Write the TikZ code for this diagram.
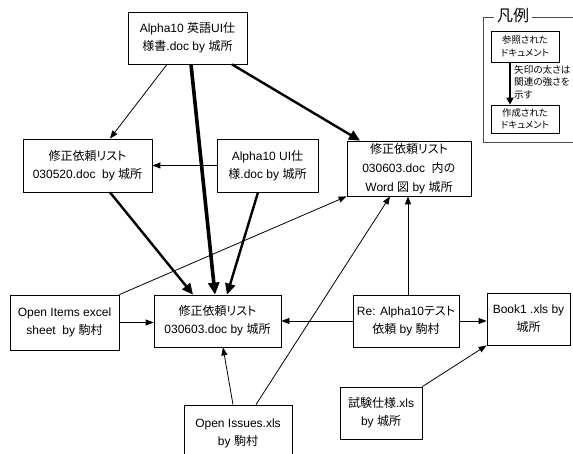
\documentclass[tikz,border=0pt]{standalone}
\usepackage{fontspec}
\setmainfont{Liberation Sans}
\newfontfamily\jp{Noto Sans CJK JP}
\newfontfamily\jpk[RawFeature=+palt]{Noto Sans CJK JP}
\usetikzlibrary{arrows.meta}
\begin{document}
\begin{tikzpicture}[x=1pt,y=-1pt,
  box/.style={draw=black,line width=0.8pt,align=center,inner sep=0pt,
    font=\fontsize{12}{18}\selectfont},
  lbox/.style={draw=black,line width=0.7pt,align=center,inner sep=0pt,
    minimum width=68pt,font=\jpk\fontsize{9.4}{12.5}\selectfont},
  lite/.style={line width=0.8pt,-{Triangle[length=8pt,width=6pt]}},
  heavy/.style={line width=2.4pt,-{Triangle[length=11pt,width=10pt]}},
  vheavy/.style={line width=3.6pt,-{Triangle[length=12pt,width=11pt]}},
]
\useasboundingbox (0,0) rectangle (573,454);

\node[box,minimum width=119pt,minimum height=52pt] (top) at (187.5,38)
  {Alpha10 {\jp 英語}UI{\jp 仕}\\{\jp 様書}.doc by {\jp 城所}};
\node[box,minimum width=129pt,minimum height=53pt] (r0520) at (87.5,165.5)
  {{\jp 修正依頼}{\jpk リスト}\\030520.doc~ by {\jp 城所}};
\node[box,minimum width=101pt,minimum height=53pt] (ui) at (267.5,165.5)
  {Alpha10 UI{\jp 仕}\\{\jp 様}.doc by {\jp 城所}};
\node[box,minimum width=124pt,minimum height=55pt,
  font=\fontsize{12}{19}\selectfont] (word) at (409,168.5)
  {{\jp 修正依頼}{\jpk リスト}\\030603.doc~ {\jp 内の}\\Word {\jp 図} by {\jp 城所}};
\node[box,minimum width=109pt,minimum height=55pt] (oitems) at (64.5,322.5)
  {Open Items excel\\sheet~ by {\jp 駒村}};
\node[box,minimum width=127pt,minimum height=52pt] (r0603) at (217.5,321)
  {{\jp 修正依頼}{\jpk リスト}\\030603.doc by {\jp 城所}};
\node[box,minimum width=106pt,minimum height=52pt] (re) at (406,321)
  {Re: Alpha10{\jpk テスト}\\{\jp 依頼} by {\jp 駒村}};
\node[box,minimum width=83pt,minimum height=52pt] (book) at (528.5,319)
  {Book1 .xls by\\{\jp 城所}};
\node[box,minimum width=82pt,minimum height=52pt] (shiken) at (381,413)
  {{\jp 試験仕様}.xls\\by {\jp 城所}};
\node[box,minimum width=108pt,minimum height=57pt] (oissues) at (238,433.5)
  {Open Issues.xls\\by {\jp 駒村}};

\draw[lite] ([xshift=-20.5pt]top.south) -- ([xshift=22.5pt]r0520.north);
\draw[vheavy] ([xshift=3.5pt]top.south) -- ([xshift=-2.5pt]r0603.north);
\draw[heavy] ([xshift=44.5pt]top.south) -- ([xshift=-49pt]word.north);
\draw[heavy] ([xshift=22.5pt]r0520.south) -- ([xshift=-24.5pt]r0603.north);
\draw[lite] (ui.west) -- (r0520.east);
\draw[heavy] ([xshift=-9.5pt]ui.south) -- ([xshift=9.5pt]r0603.north);
\draw[lite] (oitems.north east) -- (word.south west);
\draw[lite] (oitems.east) -- (oitems.east -| r0603.west);
\draw[lite] ([xshift=-5pt]oissues.north) -- ([xshift=5.5pt]r0603.south);
\draw[lite] ([xshift=18pt]oissues.north) -- ([xshift=-19pt]word.south);
\draw[lite] ([xshift=2pt]re.north) -- ([xshift=2pt]re.north |- word.south);
\draw[lite] (re.west) -- (r0603.east);
\draw[lite] (re.east) -- (re.east -| book.west);
\draw[lite] (shiken.north east) -- (book.south west);

% legend
\node[font=\jp\fontsize{16}{16}\selectfont,inner sep=3pt] (lgtitle) at (513,15) {凡例};
\draw[black!70,line width=0.8pt] (lgtitle.west |- 0,17) -- (483,17) -- (483,142) -- (573,142);
\draw[black!70,line width=0.8pt] (lgtitle.east |- 0,17) -- (573,17);
\node[lbox,minimum height=31pt] (ref) at (525,46.5) {参照された\\ドキュメント};
\node[lbox,minimum height=28pt] (made) at (525,119) {作成された\\ドキュメント};
\draw[line width=2.2pt,-{Triangle[length=7pt,width=7pt]}]
  ([xshift=-15pt]ref.south) -- ([xshift=-15pt]made.north);
\node[anchor=north west,align=left,inner sep=0pt,
  font=\jpk\fontsize{9.6}{12.5}\selectfont] (lgtext) at (514,65)
  {矢印の太さは\\関連の強さを\\示す};
\end{tikzpicture}
\end{document}
